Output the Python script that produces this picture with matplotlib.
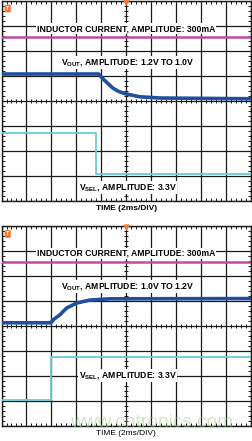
import numpy as np
import matplotlib.pyplot as plt
from matplotlib.ticker import MultipleLocator

plt.rcParams['font.family'] = ['Liberation Sans', 'DejaVu Sans']
plt.rcParams['mathtext.fontset'] = 'custom'
plt.rcParams['mathtext.rm'] = 'Liberation Sans'
plt.rcParams['mathtext.bf'] = 'Liberation Sans:bold'

# time in divisions (2ms/DIV), levels in divisions
iind_t = [0, 10]
iind_top = [6.55, 6.55]
iind_bot = [6.58, 6.58]

vout_t_top = [0, 3.9, 4.0, 4.2, 4.46, 4.7, 5.0, 5.54, 6.34, 10]
vout_top = [5.08, 5.08, 4.96, 4.76, 4.52, 4.38, 4.28, 4.17, 4.12, 4.09]

vout_t_bot = [0, 1.98, 2.1, 2.34, 2.61, 3.01, 3.54, 4.34, 10]
vout_bot = [4.14, 4.14, 4.28, 4.46, 4.73, 4.93, 5.05, 5.10, 5.11]

vsel_t_top = [0, 3.79, 3.79, 10]
vsel_top = [2.73, 2.73, 1.08, 1.08]

vsel_t_bot = [0, 2.0, 2.0, 10]
vsel_bot = [1.06, 1.06, 2.77, 2.77]

C_IND = '#c04aa6'
C_VOUT = '#1f4f9e'
C_VSEL = '#6ccbd6'
C_MARK = '#f07a30'

fig = plt.figure(figsize=(2.53, 4.41), dpi=100)
ax1 = fig.add_axes([0.006, 0.5442, 0.986, 0.4535])
ax2 = fig.add_axes([0.006, 0.034, 0.986, 0.4524])


def scope(ax, vt, vv, st, sv, ind, vlabel, time_bold):
    ax.set_xlim(0, 10)
    ax.set_ylim(0, 8)
    ax.set_xticks(range(11))
    ax.set_yticks(range(9))
    ax.xaxis.set_minor_locator(MultipleLocator(0.2))
    ax.yaxis.set_minor_locator(MultipleLocator(0.2))
    ax.tick_params(which='both', direction='in', top=True, right=True,
                   labelbottom=False, labelleft=False, color='#1a1a1a')
    ax.tick_params(which='major', length=0)
    ax.tick_params(which='minor', length=2.2, width=0.7)
    ax.grid(True, which='major', color='#1a1a1a', lw=0.9)
    for s in ax.spines.values():
        s.set_color('#1a1a1a')
        s.set_linewidth(1.0)
    # center-line ticks
    mt = np.arange(0, 10.01, 0.2)
    ax.plot(mt, np.full(len(mt), 4), ls='none', marker='|', ms=3, mew=0.7,
            color='#1a1a1a', zorder=2)
    mv = np.arange(0, 8.01, 0.2)
    ax.plot(np.full(len(mv), 5), mv, ls='none', marker='_', ms=3, mew=0.7,
            color='#1a1a1a', zorder=2)

    ax.plot(iind_t, ind, color=C_IND, lw=1.8, zorder=3)
    ax.plot(vt, vv, color=C_VOUT, lw=2.6, zorder=3)
    ax.plot(st, sv, color=C_VSEL, lw=1.3, zorder=3)

    box = dict(facecolor='white', edgecolor='none', pad=0.6)
    ax.text(5.0, ind[0] + 0.34, 'INDUCTOR CURRENT, AMPLITUDE: 300mA',
            ha='center', va='center', fontsize=6.2, weight='bold', bbox=box,
            zorder=4)
    ax.text(5.05, vlabel[0], vlabel[1], ha='center', va='center',
            fontsize=6.2, weight='bold', bbox=box, zorder=4)
    ax.text(5.05, vlabel[2], r'$\mathbf{V_{SEL}}$, AMPLITUDE: 3.3V',
            ha='center', va='center', fontsize=6.2, weight='bold', bbox=box,
            zorder=4)
    ax.set_xlabel('TIME (2ms/DIV)', fontsize=6.0,
                  weight='bold' if time_bold else 'normal', labelpad=3.2)

    # trigger markers
    ax.plot([5], [7.98], marker='v', ms=3.5, color=C_MARK, clip_on=False,
            zorder=5)
    ax.text(0.25, 7.7, 'T', ha='center', va='center', fontsize=4,
            weight='bold', color='white',
            bbox=dict(facecolor=C_MARK, edgecolor='none', pad=0.8,
                      boxstyle='round,pad=0.25'), zorder=5)


scope(ax1, vout_t_top, vout_top, vsel_t_top, vsel_top, iind_top,
      (5.53, r'$\mathbf{V_{OUT}}$, AMPLITUDE: 1.2V TO 1.0V', 0.55), True)
scope(ax2, vout_t_bot, vout_bot, vsel_t_bot, vsel_bot, iind_bot,
      (5.59, r'$\mathbf{V_{OUT}}$, AMPLITUDE: 1.0V TO 1.2V', 2.03), False)

fig.text(0.598, 0.041, 'www.cntronics.com', ha='center', va='center',
         fontsize=13.8, color='#9ccc80', alpha=0.45)

fig.savefig('out.png', dpi=100)
